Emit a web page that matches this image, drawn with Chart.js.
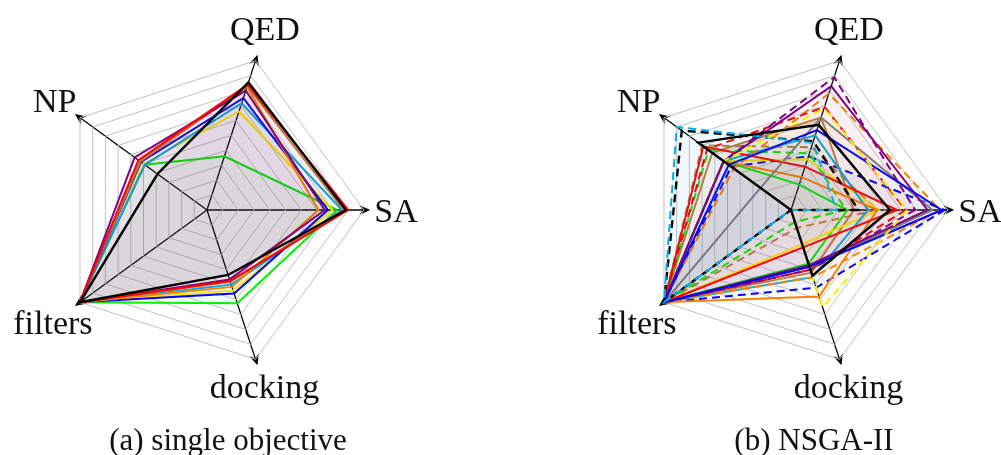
<!DOCTYPE html>
<html>
<head>
<meta charset="utf-8">
<script src="https://cdn.jsdelivr.net/npm/chart.js@4.4.1/dist/chart.umd.min.js"></script>
<style>
  html, body { margin: 0; padding: 0; background: #fff; }
  #wrap { position: relative; width: 1001px; height: 455px; overflow: hidden; background: #fff; }
  canvas { position: absolute; top: 0; }
  .cap { position: absolute; top: 425px; width: 400px; text-align: center;
         font: 31px/30px 'Liberation Serif', 'DejaVu Serif', serif; color: #111; }
</style>
</head>
<body>
<div id="wrap">
  <canvas id="single" width="500" height="455" style="left:0"></canvas>
  <canvas id="nsga" width="501" height="455" style="left:500px"></canvas>
  <div class="cap" style="left:28px">(a) single objective</div>
  <div class="cap" style="left:614px">(b) NSGA-II</div>
</div>
<script>
// Objective axes, clockwise from the right-hand side
const axes = ['SA', 'docking', 'filters', 'NP', 'QED'];

// (a) single objective runs: [SA, docking, filters, NP, QED]
const soBlack  = [0.885, 0.435, 1, 0.39, 0.855];
const soRed    = [0.90, 0.475, 1, 0.54, 0.84];
const soPurple = [0.75, 0.465, 1, 0.57, 0.80];
const soBlue   = [0.77, 0.56, 1, 0.52, 0.75];
const soCyan   = [0.86, 0.50, 1, 0.49, 0.715];
const soOrange = [0.71, 0.515, 1, 0.53, 0.825];
const soBrown  = [0.87, 0.48, 1, 0.525, 0.83];
const soYellow = [0.80, 0.54, 1, 0.50, 0.66];
const soGreen  = [0.83, 0.625, 1, 0.49, 0.36];

// (b) NSGA-II runs: [SA, docking, filters, NP, QED]
const nsBlack      = [0.63, 0.44, 0, 0.73, 0.57];
const nsBlackDash  = [0.43, 0, 1, 0.86, 0.46];
const nsCyanDash   = [0.29, 0, 1, 0.90, 0.45];
const nsCyan       = [0.49, 0.45, 1, 0.53, 0.50];
const nsYellowDash = [0.74, 0.65, 0, 0.53, 0.68];
const nsYellow     = [0.56, 0.23, 1, 0.53, 0.34];
const nsGreen      = [0.36, 0.36, 1, 0.53, 0.17];
const nsGreenDash  = [0.35, 0.08, 1, 0.65, 0.38];
const nsBrown      = [0.40, 0.42, 1, 0.62, 0.62];
const nsBrownDash  = [0.55, 0.12, 1, 0.70, 0.42];
const nsRed        = [0.675, 0.25, 1, 0.69, 0.29];
const nsRedDash    = [0.73, 0.40, 1, 0.66, 0.69];
const nsOrange     = [0.55, 0.58, 1, 0.53, 0.22];
const nsOrangeDash = [0.95, 0.45, 1, 0.45, 0.78];
const nsBlue       = [0.96, 0.38, 1, 0.49, 0.535];
const nsBlueDash   = [0.98, 0.52, 1, 0.47, 0.36];
const nsPurple     = [0.87, 0.37, 1, 0.53, 0.83];
const nsPurpleDash = [0.79, 0.40, 1, 0.53, 0.89];
const nsGray       = [0.90, 0.38, 1, 0.24, 0.62];

const COLORS = {
  black: '#000000', red: '#ff0000', blue: '#0000ff', purple: '#800080',
  orange: '#ff8000', cyan: '#00aeef', yellow: '#fff000', green: '#00f000',
  brown: '#bf8040', gray: '#808080'
};

function rgba(hex, a) {
  const n = parseInt(hex.slice(1), 16);
  return `rgba(${(n >> 16) & 255},${(n >> 8) & 255},${n & 255},${a})`;
}

function series(values, color, dashed, alpha) {
  return {
    data: values,
    borderColor: COLORS[color],
    backgroundColor: rgba(COLORS[color], alpha),
    fill: true,
    borderWidth: color === 'black' ? 2.4 : 2,
    borderDash: dashed ? [8, 5] : [],
    borderJoinStyle: 'miter',
    pointRadius: 0,
    tension: 0
  };
}

// Axis lines with stealth arrowheads, drawn beneath the grid rings
const axisArrows = {
  id: 'axisArrows',
  beforeDraw(chart) {
    const r = chart.scales.r;
    const ctx = chart.ctx;
    ctx.save();
    ctx.strokeStyle = '#000';
    ctx.fillStyle = '#000';
    ctx.lineWidth = 1.3;
    for (let i = 0; i < chart.data.labels.length; i++) {
      const tip = r.getPointPosition(i, r.drawingArea * 1.04);
      const c = Math.cos(tip.angle), s = Math.sin(tip.angle);
      ctx.beginPath();
      ctx.moveTo(r.xCenter, r.yCenter);
      ctx.lineTo(tip.x - c * 6, tip.y - s * 6);
      ctx.stroke();
      const L = 11, W = 5, B = 7.5;
      ctx.beginPath();
      ctx.moveTo(tip.x, tip.y);
      ctx.lineTo(tip.x - c * L - s * W, tip.y - s * L + c * W);
      ctx.lineTo(tip.x - c * B, tip.y - s * B);
      ctx.lineTo(tip.x - c * L + s * W, tip.y - s * L - c * W);
      ctx.closePath();
      ctx.fill();
    }
    ctx.restore();
  }
};

// Axis names placed next to the arrow tips
const labelPlacement = {
  SA:      { align: 'left',   dx: 4,   dy: 12 },
  docking: { align: 'center', dx: 7,   dy: 33 },
  filters: { align: 'center', dx: -22, dy: 28 },
  NP:      { align: 'right',  dx: 1.5, dy: -2.5 },
  QED:     { align: 'center', dx: 7.5, dy: -15 }
};
const axisNames = {
  id: 'axisNames',
  afterDraw(chart) {
    const r = chart.scales.r;
    const ctx = chart.ctx;
    ctx.save();
    ctx.fillStyle = '#111';
    ctx.font = "34px 'Liberation Serif', 'DejaVu Serif', serif";
    ctx.textBaseline = 'alphabetic';
    chart.data.labels.forEach((name, i) => {
      const tip = r.getPointPosition(i, r.drawingArea * 1.04);
      const p = labelPlacement[name];
      ctx.textAlign = p.align;
      ctx.fillText(name, tip.x + p.dx, tip.y + p.dy);
    });
    ctx.restore();
  }
};

function radarOptions(padding) {
  return {
    responsive: false,
    animation: false,
    layout: { padding },
    plugins: { legend: { display: false }, tooltip: { enabled: false } },
    scales: {
      r: {
        min: 0, max: 1,
        startAngle: 90,
        ticks: { display: false, stepSize: 0.1 },
        grid: { circular: false, color: '#c2c2c2', lineWidth: 1 },
        angleLines: { display: false },
        pointLabels: { display: false }
      }
    }
  };
}

new Chart(document.getElementById('single'), {
  type: 'radar',
  data: {
    labels: axes,
    datasets: [
      series(soBlack, 'black', false, 0.045),
      series(soRed, 'red', false, 0.02),
      series(soPurple, 'purple', false, 0.05),
      series(soBrown, 'brown', false, 0.01),
      series(soOrange, 'orange', false, 0.01),
      series(soBlue, 'blue', false, 0.035),
      series(soCyan, 'cyan', false, 0.012),
      series(soYellow, 'yellow', false, 0.01),
      series(soGreen, 'green', false, 0.045)
    ]
  },
  options: radarOptions({ left: 50, right: 136, top: 53, bottom: 88 }),
  plugins: [axisArrows, axisNames]
});

const nsAlpha = 0.01;
new Chart(document.getElementById('nsga'), {
  type: 'radar',
  data: {
    labels: axes,
    datasets: [
      series(nsBlack, 'black', false, 0.012),
      series(nsYellowDash, 'yellow', true, 0.04),
      series(nsCyanDash, 'cyan', true, 0.05),
      series(nsBlackDash, 'black', true, 0.012),
      series(nsBlue, 'blue', false, nsAlpha),
      series(nsPurple, 'purple', false, 0.025),
      series(nsPurpleDash, 'purple', true, 0.025),
      series(nsGray, 'gray', false, nsAlpha),
      series(nsRed, 'red', false, nsAlpha),
      series(nsRedDash, 'red', true, 0.02),
      series(nsOrange, 'orange', false, nsAlpha),
      series(nsOrangeDash, 'orange', true, 0.015),
      series(nsCyan, 'cyan', false, nsAlpha),
      series(nsYellow, 'yellow', false, 0.008),
      series(nsGreen, 'green', false, nsAlpha),
      series(nsGreenDash, 'green', true, nsAlpha),
      series(nsBrown, 'brown', false, nsAlpha),
      series(nsBrownDash, 'brown', true, nsAlpha),
      series(nsBlueDash, 'blue', true, 0.04)
    ]
  },
  options: radarOptions({ left: 134, right: 53, top: 53, bottom: 88 }),
  plugins: [axisArrows, axisNames]
});
</script>
</body>
</html>
